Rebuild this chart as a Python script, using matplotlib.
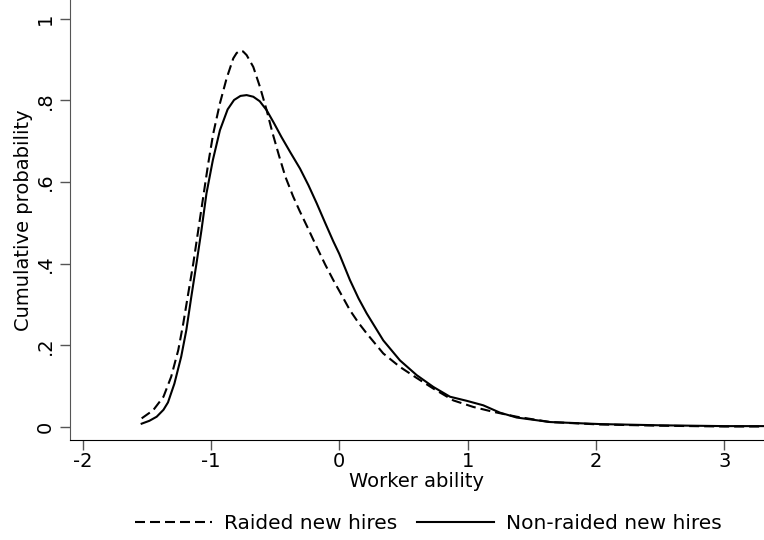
import matplotlib

matplotlib.use("Agg")
import matplotlib.pyplot as plt

# raided new hires (dashed)
raided_x = [-1.54, -1.45, -1.37, -1.31, -1.255, -1.216, -1.177, -1.138, -1.099, -1.06,
            -1.021, -0.982, -0.93, -0.878, -0.826, -0.80, -0.774, -0.75, -0.722, -0.67,
            -0.618, -0.566, -0.52, -0.47, -0.42, -0.36, -0.31, -0.24, -0.176, -0.11,
            -0.047, 0.02, 0.083, 0.15, 0.214, 0.343, 0.473, 0.603, 0.733, 0.889,
            1.044, 1.20, 1.383, 1.642, 2.03, 2.50, 3.00, 3.31]
raided_y = [0.021, 0.041, 0.074, 0.123, 0.188, 0.253, 0.327, 0.40, 0.482, 0.564,
            0.646, 0.719, 0.793, 0.854, 0.903, 0.916, 0.922, 0.92, 0.911, 0.882,
            0.833, 0.776, 0.72, 0.665, 0.613, 0.565, 0.53, 0.484, 0.441, 0.398,
            0.36, 0.322, 0.286, 0.255, 0.229, 0.18, 0.147, 0.12, 0.094, 0.065,
            0.049, 0.037, 0.025, 0.012, 0.006, 0.003, 0.001, 0.001]

# non-raided new hires (solid)
nonraided_x = [-1.54, -1.48, -1.423, -1.37, -1.335, -1.285, -1.232, -1.192, -1.153, -1.113,
               -1.074, -1.035, -0.985, -0.93, -0.87, -0.82, -0.77, -0.722, -0.67, -0.62,
               -0.566, -0.51, -0.45, -0.38, -0.306, -0.24, -0.176, -0.11, -0.047, 0.0,
               0.083, 0.15, 0.214, 0.343, 0.473, 0.603, 0.733, 0.863, 0.993, 1.122,
               1.252, 1.383, 1.642, 2.03, 2.50, 3.00, 3.31]
nonraided_y = [0.008, 0.015, 0.025, 0.042, 0.06, 0.106, 0.172, 0.237, 0.319, 0.40,
               0.482, 0.572, 0.654, 0.727, 0.778, 0.801, 0.811, 0.813, 0.809, 0.798,
               0.776, 0.745, 0.71, 0.672, 0.633, 0.592, 0.548, 0.50, 0.455, 0.424,
               0.36, 0.315, 0.278, 0.212, 0.163, 0.127, 0.098, 0.074, 0.064, 0.053,
               0.035, 0.023, 0.012, 0.007, 0.004, 0.002, 0.002]

x_ticks = [-2, -1, 0, 1, 2, 3]
y_ticks = [0, 0.2, 0.4, 0.6, 0.8, 1.0]
y_ticklabels = ["0", ".2", ".4", ".6", ".8", "1"]

fig = plt.figure(figsize=(7.64, 5.4), dpi=100)
ax = fig.add_axes([0.0912, 0.1852, 0.9088, 0.8148])

ax.plot(raided_x, raided_y, color="black", lw=1.5, ls=(0, (4.8, 2.4)),
        label="Raided new hires")
ax.plot(nonraided_x, nonraided_y, color="black", lw=1.5, label="Non-raided new hires")

ax.set_xlim(-2.101, 3.31)
ax.set_ylim(-0.032, 1.046)
ax.set_xticks(x_ticks)
ax.set_xticklabels([str(t) for t in x_ticks])
ax.set_yticks(y_ticks)
ax.set_yticklabels(y_ticklabels, rotation=90, va="center")

for side in ("top", "right"):
    ax.spines[side].set_visible(False)
ax.spines["left"].set_color("#555555")
ax.spines["bottom"].set_color("black")
ax.tick_params(axis="both", length=7, width=1, color="#555555", labelsize=14)
ax.tick_params(axis="x", pad=1.5)

ax.set_xlabel("Worker ability", fontsize=14, labelpad=1)
ax.set_ylabel("Cumulative probability", fontsize=14, labelpad=2)

fig.legend(loc="center", bbox_to_anchor=(0.561, 0.03), ncol=2, frameon=False,
           fontsize=14.5, handlelength=3.8, columnspacing=1.0, handletextpad=0.6)

fig.savefig("out.png", dpi=100)
plt.close(fig)
